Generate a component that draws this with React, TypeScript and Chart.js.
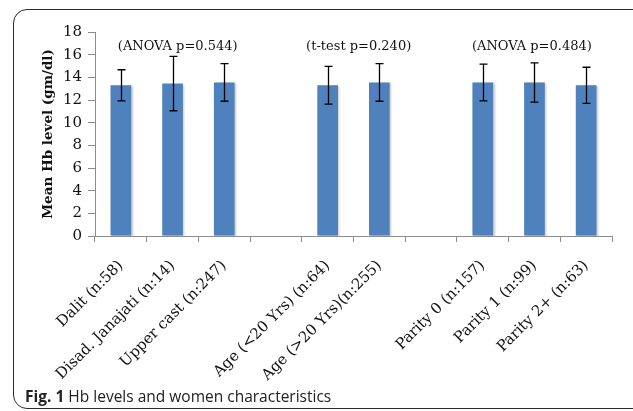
import React, { useEffect, useRef } from "react";
import { Chart, registerables } from "chart.js";

Chart.register(...registerables);

const categories = [
  "Dalit (n:58)",
  "Disad. Janajati (n:14)",
  "Upper cast (n:247)",
  "",
  "Age (<20 Yrs) (n:64)",
  "Age (>20 Yrs)(n:255)",
  "",
  "Parity 0 (n:157)",
  "Parity 1 (n:99)",
  "Parity 2+ (n:63)",
];
const meanHb: (number | null)[] = [13.3, 13.45, 13.55, null, 13.3, 13.55, null, 13.55, 13.55, 13.3];
const sdHb: (number | null)[] = [1.37, 2.4, 1.66, null, 1.66, 1.66, null, 1.62, 1.73, 1.59];
const yTicks = [0, 2, 4, 6, 8, 10, 12, 14, 16, 18];
const testLabels = ["(ANOVA p=0.544)", "(t-test p=0.240)", "(ANOVA p=0.484)"];
const testPositions = [1.1, 4.6, 7.95];
const testLevel = 16.7;

const errorBarPlugin = {
  id: "errorBars",
  beforeDatasetsDraw(chart: any) {
    const ctx = chart.ctx;
    ctx.save();
    ctx.shadowColor = "rgba(0,0,0,0.22)";
    ctx.shadowBlur = 2;
    ctx.shadowOffsetX = 1.5;
    ctx.shadowOffsetY = 1;
  },
  afterDatasetsDraw(chart: any) {
    const ctx = chart.ctx;
    ctx.restore();
    const meta = chart.getDatasetMeta(0);
    const y = chart.scales.y;
    const x = chart.scales.x;
    ctx.save();
    ctx.strokeStyle = "#000";
    ctx.lineWidth = 1.3;
    meta.data.forEach((bar: any, i: number) => {
      const m = meanHb[i];
      const s = sdHb[i];
      if (m == null || s == null) return;
      const cx = Math.round(bar.x) + 0.5;
      const top = y.getPixelForValue(m + s);
      const bot = y.getPixelForValue(m - s);
      ctx.beginPath();
      ctx.moveTo(cx, top);
      ctx.lineTo(cx, bot);
      ctx.moveTo(cx - 4, top);
      ctx.lineTo(cx + 4, top);
      ctx.moveTo(cx - 4, bot);
      ctx.lineTo(cx + 4, bot);
      ctx.stroke();
    });
    ctx.fillStyle = "#111";
    ctx.font = "13px 'DejaVu Serif'";
    ctx.textAlign = "center";
    ctx.textBaseline = "middle";
    testLabels.forEach((t, i) => {
      ctx.fillText(t, x.getPixelForValue(testPositions[i]), y.getPixelForValue(testLevel));
    });
    ctx.restore();
  },
};

export default function App() {
  const ref = useRef<HTMLCanvasElement | null>(null);
  useEffect(() => {
    if (!ref.current) return;
    const chart = new Chart(ref.current, {
      type: "bar",
      data: {
        labels: categories,
        datasets: [
          {
            data: meanHb as any,
            backgroundColor: "#4F81BD",
            borderWidth: 0,
            categoryPercentage: 1,
            barPercentage: 0.4,
          },
        ],
      },
      options: {
        responsive: false,
        animation: false,
        devicePixelRatio: 1,
        layout: { padding: { top: 32, right: 21, left: 40, bottom: 0 } },
        plugins: { legend: { display: false }, tooltip: { enabled: false } },
        scales: {
          x: {
            afterFit: (s: any) => {
              s.height = 175;
            },
            grid: { drawOnChartArea: false, tickLength: 6, color: "#8c8c8c", offset: true },
            border: { color: "#8c8c8c", width: 1 },
            ticks: {
              autoSkip: false,
              minRotation: 45,
              maxRotation: 45,
              padding: 15,
              color: "#111",
              font: { family: "'DejaVu Serif'", size: 15 },
            },
          },
          y: {
            min: 0,
            max: 18,
            afterFit: (s: any) => {
              s.width = 55;
            },
            afterBuildTicks: (s: any) => {
              s.ticks = yTicks.map((v) => ({ value: v }));
            },
            grid: { drawOnChartArea: false, tickLength: 7, color: "#8c8c8c" },
            border: { color: "#8c8c8c", width: 1 },
            ticks: {
              padding: 6,
              color: "#111",
              font: { family: "'DejaVu Serif'", size: 15 },
            },
            title: {
              display: true,
              text: "Mean Hb level (gm/dl)",
              color: "#111",
              padding: 0,
              font: { family: "'DejaVu Serif'", size: 13.5, weight: "bold" },
            },
          },
        },
      },
      plugins: [errorBarPlugin],
    });
    return () => chart.destroy();
  }, []);

  return (
    <div style={{ position: "fixed", left: 0, top: 0, width: 633, height: 411, overflow: "hidden", background: "#fff" }}>
      <div
        style={{
          position: "absolute",
          left: 13,
          top: 9,
          width: 640,
          height: 398,
          border: "1.5px solid #2a2a2a",
          borderRadius: 14,
        }}
      />
      <canvas ref={ref} width={633} height={411} style={{ position: "absolute", left: 0, top: 0, display: "block" }} />
      <div
        style={{
          position: "absolute",
          left: 25,
          top: 385,
          fontFamily: "'Open Sans'",
          fontSize: 15.5,
          color: "#222",
          whiteSpace: "nowrap",
        }}
      >
        <b>Fig. 1</b> Hb levels and women characteristics
      </div>
    </div>
  );
}
